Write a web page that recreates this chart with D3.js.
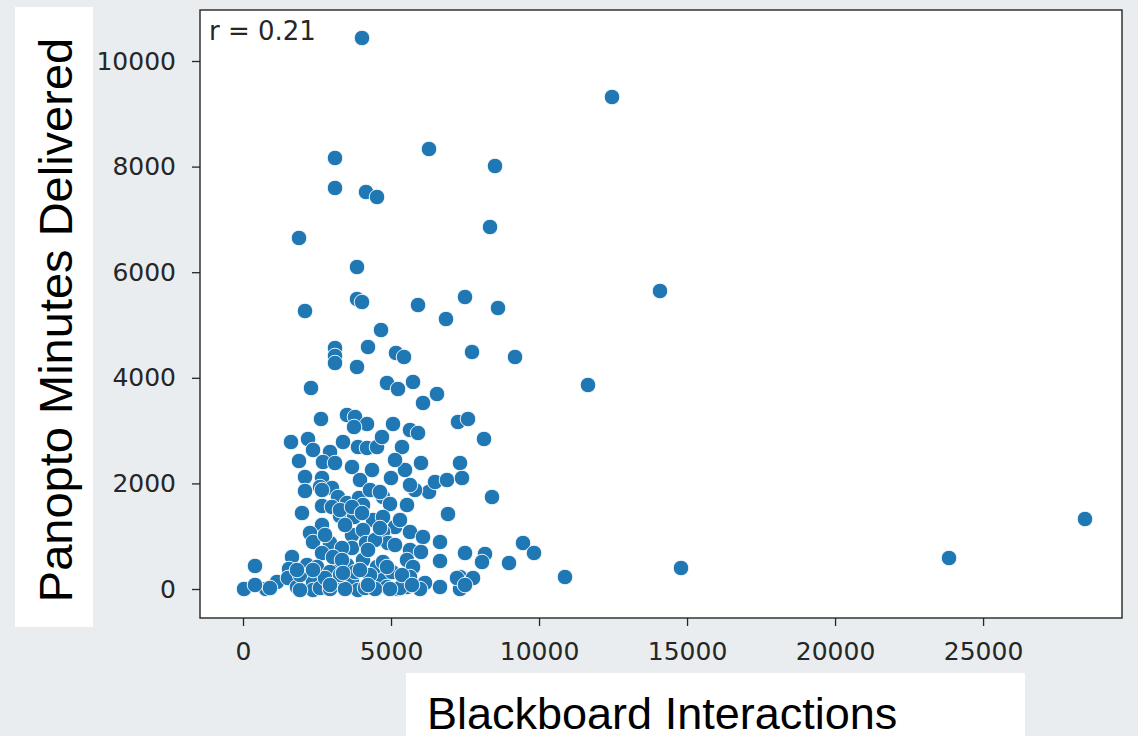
<html>
<head>
<script src="https://cdnjs.cloudflare.com/ajax/libs/d3/7.8.5/d3.min.js"></script>
<style>
  body { margin: 0; background: #e9edef; }
  svg { display: block; }
  .tick text { font-family: "DejaVu Sans"; font-size: 25px; fill: #262626; }
  .tick line { stroke: #262626; stroke-width: 1.3; }
  .axis-title { font-family: "Liberation Sans", Arial; fill: #000; }
</style>
</head>
<body>
<svg id="chart" width="1138" height="736"></svg>
<script>
// Blackboard interactions (x) vs Panopto minutes delivered (y)
var blackboard = [
  4020, 12465, 3108, 6283, 8513, 3108, 4155, 4527, 1892, 8344,
  3851, 2094, 3851, 4020, 5912, 6857, 7499, 8614, 14086, 4662,
  3108, 3108, 3108, 4223, 5168, 5439, 7736, 9189, 11654, 2297,
  3851, 4864, 5236, 5743, 6080, 6553, 14796, 10877, 23850, 28443,
  2635, 3513, 3783, 4189, 3750, 5067, 5641, 5912, 7263, 7601,
  8141, 1621, 2196, 2365, 2939, 3378, 3885, 4189, 4527, 4695,
  5371, 6013, 1892, 2702, 3108, 3682, 7330, 4999, 2094, 2669,
  6283, 6486, 6891, 7398, 8411, 2094, 2601, 3006, 3209, 2669,
  3006, 3513, 3918, 4054, 4729, 4966, 5540, 1993, 3277, 3750,
  4391, 4729, 5135, 6925, 2669, 2263, 2365, 2939, 3682, 4054,
  4729, 4898, 5641, 6080, 6655, 2669, 3682, 4155, 5641, 6013,
  1655, 6655, 7499, 8175, 8074, 405, 1554, 1824, 2162, 2500,
  3175, 3513, 4054, 4527, 4729, 5540, 5743, 7330, 7770, 34,
  777, 1149, 1520, 1824, 2365, 2365, 2939, 3175, 3547, 3682,
  3885, 4358, 4729, 4864, 5236, 5540, 5641, 6148, 6655, 7330,
  9458, 9830, 8986, 5303, 405, 912, 1925, 2601, 2939, 3446,
  4121, 4459, 4966, 5979, 3277, 3783, 4290, 5033, 5371, 1925,
  2770, 3344, 5135, 4459, 5303, 3446, 3952, 4358, 5472, 5810,
  4290, 5135, 5641, 2669, 4628, 3277, 3682, 4020, 2770, 4628,
  4223, 3040, 3344, 4864, 1824, 2365, 3378, 3952, 2939, 4223,
  5709, 7229, 7499
];
var panopto = [
  10436, 9318, 8163, 8333, 8011, 7595, 7519, 7424, 6648, 6856,
  6098, 5265, 5492, 5435, 5378, 5113, 5530, 5322, 5644, 4905,
  4564, 4413, 4280, 4583, 4470, 4394, 4489, 4394, 3864, 3807,
  4205, 3902, 3788, 3921, 3523, 3693, 398, 227, 587, 1326,
  3220, 3296, 3258, 3125, 3068, 3125, 3011, 2955, 3163, 3220,
  2841, 2784, 2841, 2633, 2595, 2784, 2689, 2671, 2689, 2879,
  2689, 2386, 2424, 2405, 2386, 2311, 2386, 2102, 2121, 2102,
  1837, 2027, 2064, 2102, 1742, 1856, 1932, 1913, 1742, 1572,
  1553, 1629, 1724, 1591, 1742, 1610, 1591, 1439, 1383, 1364,
  1307, 1364, 1174, 1420, 1212, 1061, 890, 871, 1023, 1117,
  1080, 871, 1080, 985, 890, 682, 777, 871, 739, 701,
  606, 530, 682, 663, 511, 436, 379, 303, 455, 417,
  492, 455, 549, 417, 511, 549, 417, 227, 208, 0,
  0, 133, 208, 38, 133, -19, 322, 114, 133, 133,
  -19, 38, 170, 38, 0, 38, 227, 114, 38, 0,
  871, 682, 492, 19, 76, 19, -19, 19, 0, 0,
  19, 0, 0, 0, 265, 322, 265, 322, 265, 265,
  208, 777, 833, 928, 1307, 1212, 2064, 2254, 2254, 1875,
  1875, 2443, 1970, 1875, 1837, 1496, 1553, 1439, 1023, 1155,
  739, 606, 549, 417, 360, 360, 303, 360, 76, 76,
  76, 208, 76
];
var xTicks = [0, 5000, 10000, 15000, 20000, 25000];
var yTicks = [0, 2000, 4000, 6000, 8000, 10000];
var corrLabel = "r = 0.21";
var xTitle = "Blackboard Interactions";
var yTitle = "Panopto Minutes Delivered";

var svg = d3.select("#chart");
var plotL = 200, plotR = 1122, plotT = 10, plotB = 618;

var x = d3.scaleLinear().domain([-1453, 29693]).range([plotL, plotR]);
var y = d3.scaleLinear().domain([-549, 10966]).range([plotB, plotT]);

// white boxes behind axis titles
svg.append("rect").attr("x", 15).attr("y", 7).attr("width", 78).attr("height", 620).attr("fill", "#fff");
svg.append("rect").attr("x", 406).attr("y", 673).attr("width", 619).attr("height", 63).attr("fill", "#fff");

// plot area
svg.append("rect")
  .attr("x", plotL).attr("y", plotT)
  .attr("width", plotR - plotL).attr("height", plotB - plotT)
  .attr("fill", "#fff");

var xAxis = d3.axisBottom(x).tickValues(xTicks).tickFormat(d3.format("d")).tickSizeOuter(0).tickSize(8).tickPadding(10);
var yAxis = d3.axisLeft(y).tickValues(yTicks).tickFormat(d3.format("d")).tickSizeOuter(0).tickSize(8).tickPadding(16);

var gx = svg.append("g").attr("transform", "translate(0," + plotB + ")").call(xAxis);
var gy = svg.append("g").attr("transform", "translate(" + plotL + ",0)").call(yAxis);
gx.select(".domain").remove();
gy.select(".domain").remove();
gx.selectAll(".tick text").attr("dy", "0.95em");

var pts = blackboard.map(function(d, i) { return [d, panopto[i]]; });

svg.append("g").selectAll("circle")
  .data(pts)
  .enter()
  .append("circle")
  .attr("cx", d => x(d[0]))
  .attr("cy", d => y(d[1]))
  .attr("r", 7.8)
  .attr("fill", "#1f77b4")
  .attr("stroke", "#fff")
  .attr("stroke-width", 0.9);

// frame
svg.append("rect")
  .attr("x", plotL).attr("y", plotT)
  .attr("width", plotR - plotL).attr("height", plotB - plotT)
  .attr("fill", "none").attr("stroke", "#262626").attr("stroke-width", 1.4);

svg.append("text")
  .attr("x", 209).attr("y", 40)
  .attr("font-family", "DejaVu Sans").attr("font-size", 26).attr("fill", "#262626")
  .text(corrLabel);

svg.append("text")
  .attr("class", "axis-title")
  .attr("x", 427).attr("y", 729)
  .attr("font-size", 45)
  .text(xTitle);

svg.append("text")
  .attr("class", "axis-title")
  .attr("transform", "translate(72,320) rotate(-90)")
  .attr("text-anchor", "middle")
  .attr("font-size", 47)
  .text(yTitle);
</script>
</body>
</html>
